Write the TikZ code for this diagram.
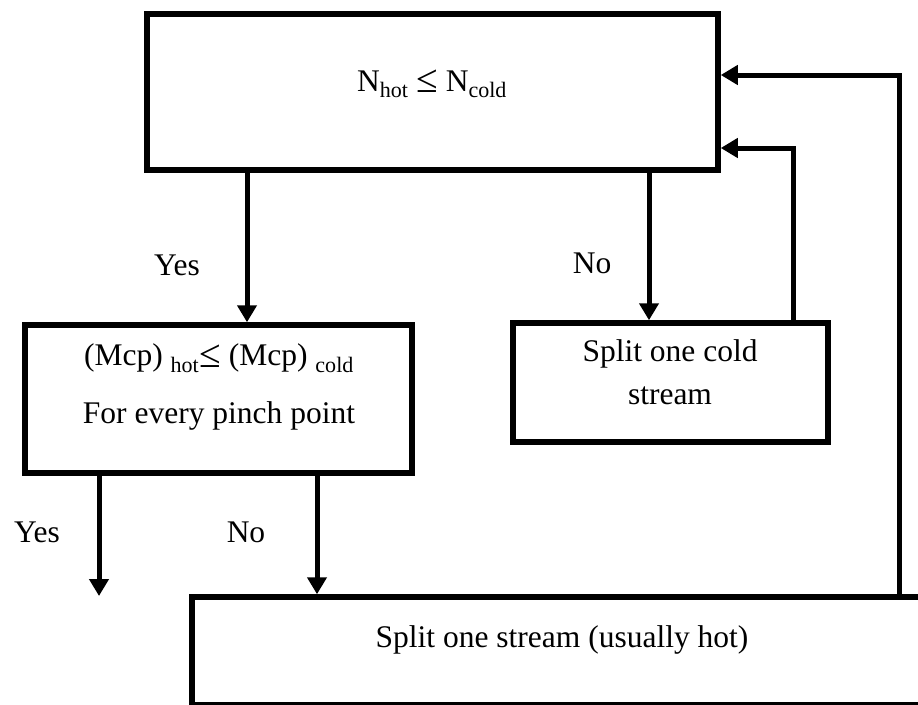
\documentclass[tikz,border=0pt]{standalone}
\usepackage{fontspec}
\setmainfont{Liberation Serif}
\usetikzlibrary{arrows.meta}
\newcommand{\myle}{\raisebox{-0.05em}{\scalebox{1.25}{≤}}}
\begin{document}
\begin{tikzpicture}[x=1pt,y=-1pt,
  box/.style={draw,rectangle,line width=5.5pt,inner sep=0pt},
  txt/.style={inner sep=0pt,font=\fontsize{31.5}{38}\selectfont},
  arr/.style={line width=5pt,-{Triangle[width=19pt,length=17pt]}}]
\useasboundingbox (0,0) rectangle (918,704);
% boxes
\node[box,minimum width=571pt,minimum height=156pt] (top) at (432.5,92) {};
\node[box,minimum width=387pt,minimum height=148pt] (mcp) at (218.5,399) {};
\node[box,minimum width=315pt,minimum height=119pt] (cold) at (670.5,382.5) {};
\node[box,minimum width=743pt,minimum height=108pt] (hot) at (563.5,651) {};
% texts
\node[txt] (t1) at (432,84) {N\textsubscript{hot} \myle{} N\textsubscript{cold}};
\node[txt] (t2) at (219,358) {(Mcp) \textsubscript{hot}\myle{} (Mcp) \textsubscript{cold}};
\node[txt] (t3) at (219,416) {For every pinch point};
\node[txt] (t4) at (670,354) {Split one cold};
\node[txt] (t5) at (670,396) {stream};
\node[txt] (t6) at (562,640) {Split one stream (usually hot)};
\node[txt] (l1) at (177,265) {Yes};
\node[txt] (l2) at (592,263) {No};
\node[txt] (l3) at (37,532) {Yes};
\node[txt] (l4) at (246,532) {No};
% helper coordinates
\coordinate (xa) at (247,0);
\coordinate (xb) at (649,0);
\coordinate (xc) at (793,148);
\coordinate (xd) at (899,75);
\coordinate (xe) at (99,596);
\coordinate (xf) at (317,0);
% connectors
\draw[arr] (top.south -| xa) -- (mcp.north -| xa);
\draw[arr] (top.south -| xb) -- (cold.north -| xb);
\draw[arr] (cold.north -| xc) |- (top.east |- xc);
\draw[arr] (hot.north -| xd) |- (top.east |- xd);
\draw[arr] (mcp.south -| xe) -- (xe);
\draw[arr] (mcp.south -| xf) -- (hot.north -| xf);
\end{tikzpicture}
\end{document}
